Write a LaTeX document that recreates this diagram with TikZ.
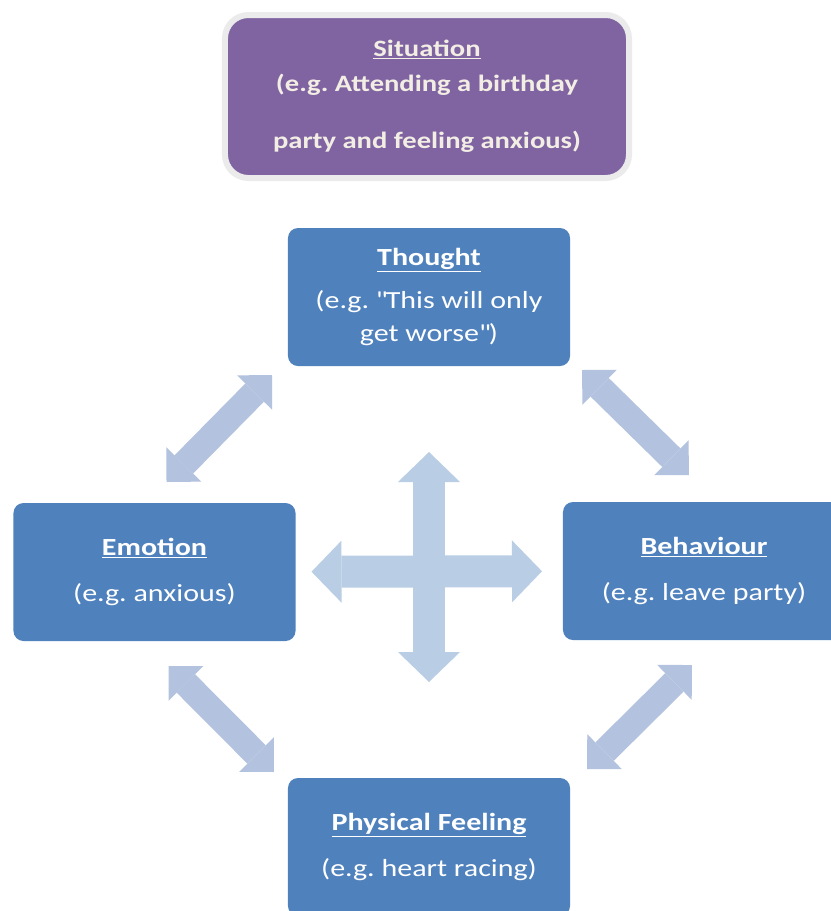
\documentclass[tikz,border=0pt]{standalone}
\usepackage{fontspec}
\setmainfont{Carlito}[FakeStretch=1.22]
\usetikzlibrary{arrows.meta,calc}
\frenchspacing

\definecolor{boxblue}{HTML}{4F81BD}
\definecolor{boxpurple}{HTML}{8064A2}
\definecolor{ringgray}{HTML}{EBEBEB}
\definecolor{linkblue}{HTML}{B3C2DE}
\definecolor{crossblue}{HTML}{B9CDE5}
\definecolor{creamtext}{HTML}{F2EEE4}

\begin{document}
\begin{tikzpicture}[x=0.03cm, y=-0.03cm,
  box/.style={rectangle, rounded corners=0.3cm, fill=boxblue, text=white,
    minimum width=8.46cm, minimum height=4.14cm, outer sep=0pt, align=center,
    font=\fontsize{21}{28}\selectfont, execute at begin node={\rule{0pt}{23pt}}},
  sitbox/.style={rectangle, rounded corners=0.7cm, fill=boxpurple, draw=ringgray,
    line width=0.18cm, text=creamtext, minimum width=12.12cm, minimum height=4.89cm,
    outer sep=0pt, align=center, font=\bfseries\fontsize{20}{28}\selectfont,
    execute at begin node={\rule{0pt}{30pt}}},
  link/.style={draw=linkblue, line width=0.78cm,
    {Triangle[length=0.74cm,width=1.47cm,line width=0pt]}-{Triangle[length=0.74cm,width=1.47cm,line width=0pt]}},
  cross/.style={draw=crossblue, line width=0.96cm,
    {Triangle[length=0.9cm,width=1.86cm,line width=0pt]}-{Triangle[length=0.9cm,width=1.86cm,line width=0pt]}}]
  \useasboundingbox (0,0) rectangle (831,911);
  \clip (0,0) rectangle (831,911);

  \node[sitbox] (situation) at (427,96.5)
    {\underline{Situation}\\[2pt] (e.g. Attending a birthday\\[20.5pt] party and feeling anxious)};
  \node[box] (thought) at (429,297)
    {\underline{\textbf{Thought}}\\[9pt] (e.g. \textquotedbl This will only\\ get worse\textquotedbl)};
  \node[box] (emotion) at (154.5,572)
    {\underline{\textbf{Emotion}}\\[12pt] (e.g. anxious)};
  \node[box] (behaviour) at (704,571)
    {\underline{\textbf{Behaviour}}\\[12pt] (e.g. leave party)};
  \node[box] (physical) at (429,847)
    {\underline{\textbf{Physical Feeling}}\\[12pt] (e.g. heart racing)};

  % links round the cycle
  \draw[link] ([shift={(-16,9)}]thought.south west) -- ([shift={(-129,-21)}]emotion.north east);
  \draw[link] ([shift={(12,4)}]thought.south east) -- ([shift={(126,-27)}]behaviour.north west);
  \draw[link] ([shift={(-127,25)}]emotion.south east) -- ([shift={(-14,-6)}]physical.north west);
  \draw[link] ([shift={(129,25)}]behaviour.south west) -- ([shift={(17,-9)}]physical.north east);

  % the cross in the middle
  \draw[cross, shorten <=86*0.03cm, shorten >=96*0.03cm] (thought) -- (physical);
  \draw[cross, shorten <=16*0.03cm, shorten >=21*0.03cm] (emotion) -- (behaviour);
\end{tikzpicture}
\end{document}
